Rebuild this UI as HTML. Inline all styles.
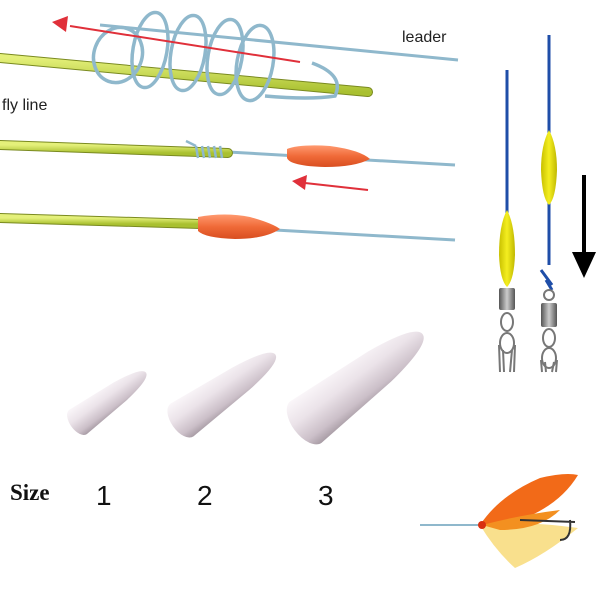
<!DOCTYPE html>
<html><head><style>body{margin:0;background:#fff}svg{display:block}</style></head><body>
<svg width="600" height="600" viewBox="0 0 600 600" xmlns="http://www.w3.org/2000/svg">
<defs>
<linearGradient id="yg" x1="0" y1="0" x2="0" y2="1"><stop offset="0" stop-color="#e4f07a"/><stop offset="1" stop-color="#a9c030"/></linearGradient>
<linearGradient id="og" x1="0" y1="0" x2="0" y2="1"><stop offset="0" stop-color="#ff9a70"/><stop offset=".5" stop-color="#f06a38"/><stop offset="1" stop-color="#d84e20"/></linearGradient>
<linearGradient id="wg" x1="0" y1="0" x2="0" y2="1"><stop offset="0" stop-color="#faf6f9"/><stop offset=".4" stop-color="#ebe3e9"/><stop offset=".8" stop-color="#cbbfc8"/><stop offset="1" stop-color="#a89ca5"/></linearGradient>
<linearGradient id="yb" x1="0" y1="0" x2="1" y2="0"><stop offset="0" stop-color="#c8c000"/><stop offset=".5" stop-color="#f4ee20"/><stop offset="1" stop-color="#c0b800"/></linearGradient>
<linearGradient id="sw" x1="0" y1="0" x2="1" y2="0"><stop offset="0" stop-color="#555"/><stop offset=".5" stop-color="#ccc"/><stop offset="1" stop-color="#555"/></linearGradient>
</defs>
<line x1="100" y1="25" x2="458" y2="60" stroke="#8fb8cc" stroke-width="3"/>
<path d="M0 58 L368 92" stroke="#7a8a20" stroke-width="10" stroke-linecap="round"/>
<path d="M0 58 L368 92" stroke="url(#yg)" stroke-width="8" stroke-linecap="round"/>
<g fill="none" stroke="#8fb8cc" stroke-width="3.5">
<ellipse cx="118" cy="55" rx="28" ry="24" transform="rotate(-70 118 55)"/>
<ellipse cx="150" cy="50" rx="38" ry="17" transform="rotate(-80 150 50)"/>
<ellipse cx="188" cy="53" rx="38" ry="17" transform="rotate(-80 188 53)"/>
<ellipse cx="225" cy="57" rx="38" ry="17" transform="rotate(-80 225 57)"/>
<ellipse cx="255" cy="63" rx="38" ry="18" transform="rotate(-80 255 63)"/>
<path d="M265 96 Q310 100 335 96 Q345 75 312 63"/>
</g>
<line x1="300" y1="62" x2="70" y2="26" stroke="#e0303a" stroke-width="2"/>
<polygon points="52,22 68,16 66,32" fill="#e0303a"/>
<text x="402" y="42" font-family="Liberation Sans, sans-serif" font-size="16" fill="#222">leader</text>
<text x="2" y="110" font-family="Liberation Sans, sans-serif" font-size="16" fill="#222">fly line</text>
<line x1="228" y1="152" x2="455" y2="165" stroke="#8fb8cc" stroke-width="3"/>
<path d="M0 145 L228 153" stroke="#7a8a20" stroke-width="10" stroke-linecap="round"/>
<path d="M0 145 L228 153" stroke="url(#yg)" stroke-width="8" stroke-linecap="round"/>
<g stroke="#8fb8cc" stroke-width="2.5" fill="none"><path d="M196 146 l2 12 M202 146 l2 12 M208 146 l2 12 M214 146 l2 12 M220 146 l2 12 M186 141 l10 5"/></g>
<path d="M287 149 Q300 144 330 146 Q360 150 370 159 Q355 167 325 167 Q290 166 287 158 Z" fill="url(#og)"/>
<line x1="368" y1="190" x2="305" y2="183" stroke="#e0303a" stroke-width="2"/>
<polygon points="292,181 307,175 305,190" fill="#e0303a"/>
<line x1="275" y1="230" x2="455" y2="240" stroke="#8fb8cc" stroke-width="3"/>
<path d="M0 218 L200 224" stroke="#7a8a20" stroke-width="10" stroke-linecap="round"/>
<path d="M0 218 L200 224" stroke="url(#yg)" stroke-width="8" stroke-linecap="round"/>
<path d="M198 217 Q225 212 250 217 Q272 223 280 229 Q265 239 235 239 Q205 238 198 231 Z" fill="url(#og)"/>
<line x1="507" y1="70" x2="507" y2="285" stroke="#1f4ea8" stroke-width="3"/>
<path d="M507 210 Q515 225 515 255 Q514 280 507 287 Q500 280 499 255 Q499 225 507 210Z" fill="url(#yb)"/>
<rect x="499" y="288" width="16" height="22" rx="2" fill="url(#sw)"/>
<g fill="none" stroke="#777" stroke-width="2"><ellipse cx="507" cy="322" rx="6" ry="9"/><ellipse cx="507" cy="343" rx="7" ry="10"/><path d="M499 345 L500 372 M503 350 L504 372 M512 350 L510 372 M515 345 L514 372"/></g>
<line x1="549" y1="35" x2="549" y2="265" stroke="#1f4ea8" stroke-width="3"/>
<path d="M549 130 Q557 145 557 170 Q556 198 549 205 Q542 198 541 170 Q541 145 549 130Z" fill="url(#yb)"/>
<path d="M541 270 L552 285 M546 280 L552 290" stroke="#1f4ea8" stroke-width="3"/>
<circle cx="549" cy="295" r="5" fill="none" stroke="#777" stroke-width="2"/>
<rect x="541" y="303" width="16" height="24" rx="2" fill="url(#sw)"/>
<g fill="none" stroke="#777" stroke-width="2"><ellipse cx="549" cy="338" rx="6" ry="9"/><ellipse cx="549" cy="358" rx="7" ry="10"/><path d="M541 360 L542 372 M545 362 L546 372 M554 362 L552 372 M557 360 L556 372"/></g>
<line x1="584" y1="175" x2="584" y2="255" stroke="#000" stroke-width="4"/>
<polygon points="572,252 596,252 584,278" fill="#000"/>
<g transform="translate(78,422) rotate(-36)"><path d="M0 -15 L52 -11 Q84 -7 84 0 Q84 7 52 11 L0 15 A8 15 0 0 1 0 -15Z" fill="url(#wg)"/></g>
<g transform="translate(182,420) rotate(-35)"><path d="M0 -20 L72 -14 Q114 -9 114 0 Q114 9 72 14 L0 20 A11 20 0 0 1 0 -20Z" fill="url(#wg)"/></g>
<g transform="translate(306,422) rotate(-37)"><path d="M0 -26 L92 -19 Q146 -12 146 0 Q146 12 92 19 L0 26 A14 26 0 0 1 0 -26Z" fill="url(#wg)"/></g>
<text x="10" y="500" font-family="Liberation Serif, serif" font-weight="bold" font-size="23" fill="#111">Size</text>
<text x="96" y="505" font-family="Liberation Sans, sans-serif" font-size="28" fill="#111">1</text>
<text x="197" y="505" font-family="Liberation Sans, sans-serif" font-size="28" fill="#111">2</text>
<text x="318" y="505" font-family="Liberation Sans, sans-serif" font-size="28" fill="#111">3</text>
<line x1="420" y1="525" x2="482" y2="525" stroke="#8fb8cc" stroke-width="2"/>
<path d="M480 525 Q500 495 540 478 Q565 472 578 475 Q560 505 520 520 Z" fill="#f26a18"/>
<path d="M480 525 Q520 520 578 528 Q545 555 515 568 Q495 550 480 525Z" fill="#f8d870" opacity=".8"/>
<path d="M482 525 Q520 515 560 510 Q540 530 500 530Z" fill="#f39020"/>
<path d="M520 520 L575 522 M570 520 Q572 540 560 540" fill="none" stroke="#333" stroke-width="2"/>
<circle cx="482" cy="525" r="4" fill="#d83010"/>
</svg>
</body></html>
